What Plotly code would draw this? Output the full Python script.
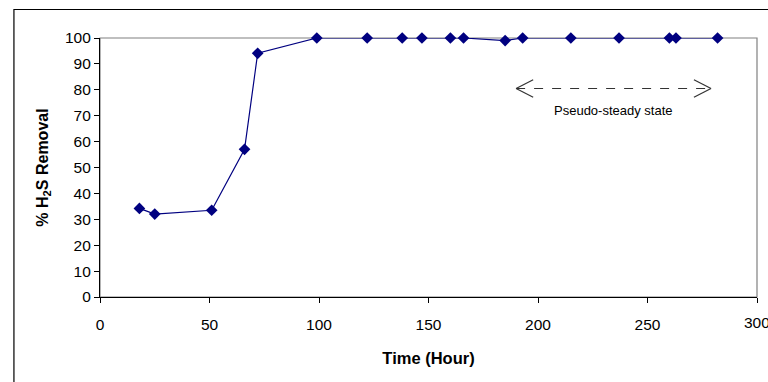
import plotly.graph_objects as go

time_hr = [18, 25, 51, 66, 72, 99, 122, 138, 147, 160, 166, 185, 193, 215, 237, 260, 263, 282]
removal = [34.2, 32, 33.5, 57, 94.1, 100, 100, 100, 100, 100, 100, 99, 100, 100, 100, 100, 100, 100]

x_ticks = [0, 50, 100, 150, 200, 250, 300]
x_tick_labels = ["0", "50", "100", "150", "200", "250", "300"]
y_ticks = [0, 10, 20, 30, 40, 50, 60, 70, 80, 90, 100]

arrow_x = [190, 279]
arrow_y = 80.5
label_text = "Pseudo-steady state"

fig = go.Figure()
fig.add_trace(go.Scatter(
    x=time_hr, y=removal, mode="lines+markers",
    line=dict(color="#000080", width=1.2),
    marker=dict(symbol="diamond", size=9, color="#000080"),
    cliponaxis=False, showlegend=False,
))

font = "Liberation Sans, Arial, sans-serif"
shapes = [
    # outer chart border
    dict(type="rect", xref="paper", yref="paper", x0=-0.131, x1=1.2, y0=-0.6, y1=1.110,
         line=dict(color="black", width=1.2), layer="below"),
    # plot-area border (gray)
    dict(type="rect", xref="paper", yref="paper", x0=0, x1=1, y0=0, y1=1,
         line=dict(color="#808080", width=1.2), layer="below"),
    # dashed arrow shaft
    dict(type="line", xref="x", yref="y", x0=arrow_x[0], x1=arrow_x[1], y0=arrow_y, y1=arrow_y,
         line=dict(color="#333333", width=1.2, dash="dash")),
]
# chevrons
dxu, dyu = 7.8, 3.4
for tip, sgn in [(arrow_x[0], 1), (arrow_x[1], -1)]:
    for s in (1, -1):
        shapes.append(dict(type="line", xref="x", yref="y", x0=tip, y0=arrow_y,
                           x1=tip + sgn * dxu, y1=arrow_y + s * dyu,
                           line=dict(color="#333333", width=1.2)))

TICK_SIZE = 15.5
# last tick label drawn as annotation (it runs past the page edge, as in the reference)
shown_labels = x_tick_labels[:-1] + [""]
annotations = [
    dict(x=sum(arrow_x) / 2, y=72.2, xref="x", yref="y", text=label_text,
         showarrow=False, font=dict(size=13, color="black", family=font)),
    dict(x=x_ticks[-1], y=0, xref="x", yref="paper", text=x_tick_labels[-1],
         yanchor="middle", xanchor="center", yshift=-25, showarrow=False,
         font=dict(size=TICK_SIZE, color="black", family=font)),
]

fig.update_layout(
    width=768, height=382,
    margin=dict(l=100, r=11, t=38, b=85),
    paper_bgcolor="white", plot_bgcolor="white",
    font=dict(family=font, color="black"),
    shapes=shapes,
    annotations=annotations,
    xaxis=dict(range=[0, 300], tickvals=x_ticks, ticktext=shown_labels,
               showgrid=False, zeroline=False, automargin=False,
               showline=True, linecolor="black", linewidth=1.2,
               ticks="outside", ticklen=5, tickcolor="black", ticklabelstandoff=8,
               tickfont=dict(size=TICK_SIZE),
               title=dict(text="<b>Time (Hour)</b>", font=dict(size=16.5), standoff=20)),
    yaxis=dict(range=[0, 100], tickvals=y_ticks, showgrid=False, zeroline=False, automargin=False,
               showline=True, linecolor="black", linewidth=1.2,
               ticks="outside", ticklen=5, tickcolor="black",
               tickfont=dict(size=TICK_SIZE),
               title=dict(text="<b>% H<sub>2</sub>S Removal</b>", font=dict(size=16), standoff=12)),
)

fig.write_html("out.html")
